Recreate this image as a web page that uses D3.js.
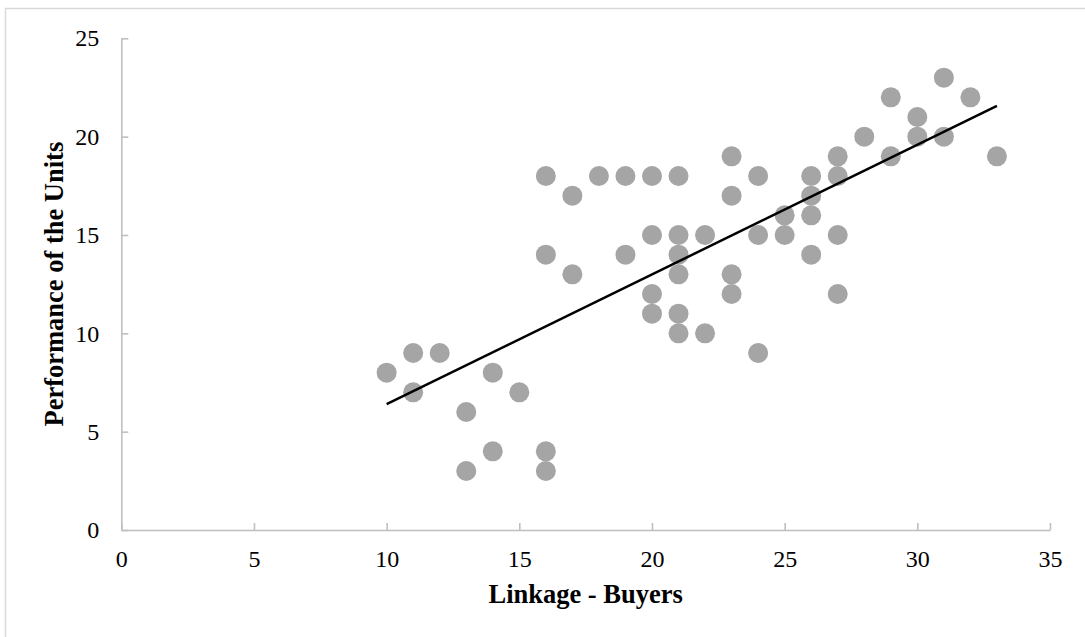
<!DOCTYPE html>
<html>
<head>
<meta charset="utf-8">
<script src="https://d3js.org/d3.v7.min.js"></script>
<style>
  html, body { margin: 0; padding: 0; background: #fff; }
  svg { display: block; }
</style>
</head>
<body>
<svg id="chart" width="1085" height="637"></svg>
<script>
// Linkage - Buyers (x) values
const linkageBuyers = [10, 11, 11, 12, 13, 13, 14, 14, 15, 16, 16, 16, 16, 17, 17, 18, 19, 19,
  20, 20, 20, 20, 21, 21, 21, 21, 21, 21, 22, 22, 23, 23, 23, 23, 24, 24, 24, 25, 25,
  26, 26, 26, 26, 27, 27, 27, 27, 28, 29, 29, 30, 30, 31, 31, 32, 33];
// Performance of the Units (y) values
const performance = [8, 9, 7, 9, 6, 3, 8, 4, 7, 18, 14, 4, 3, 17, 13, 18, 18, 14,
  18, 15, 12, 11, 18, 15, 14, 13, 11, 10, 15, 10, 19, 17, 13, 12, 18, 15, 9, 16, 15,
  18, 17, 16, 14, 19, 18, 15, 12, 20, 22, 19, 21, 20, 23, 20, 22, 19];
const xTicks = [0, 5, 10, 15, 20, 25, 30, 35];
const yTicks = [0, 5, 10, 15, 20, 25];
const xTitle = "Linkage - Buyers";
const yTitle = "Performance of the Units";

const svg = d3.select("#chart");
const W = 1085, H = 637;

// outer chart border
svg.append("rect").attr("x", 5.5).attr("y", 8.5).attr("width", W + 10).attr("height", H + 10)
  .attr("fill", "none").attr("stroke", "#D9D9D9").attr("stroke-width", 1.5);

const x = d3.scaleLinear().domain([0, 35]).range([121.3, 1050]);
const y = d3.scaleLinear().domain([0, 25]).range([530, 38.3]);

const font = "'Liberation Serif', 'Times New Roman', serif";
const axisColor = "#BFBFBF";

// x axis
const gx = svg.append("g").attr("transform", `translate(0,${y(0)})`)
  .call(d3.axisBottom(x).tickValues(xTicks).tickSizeInner(-7).tickSizeOuter(0).tickPadding(20));
// y axis
const gy = svg.append("g").attr("transform", `translate(${x(0)},0)`)
  .call(d3.axisLeft(y).tickValues(yTicks).tickSizeInner(-7).tickSizeOuter(0).tickPadding(22));

[gx, gy].forEach(g => {
  g.select(".domain").attr("stroke", axisColor).attr("stroke-width", 1.6);
  g.selectAll(".tick line").attr("stroke", axisColor).attr("stroke-width", 1.6);
  g.selectAll(".tick text").attr("fill", "#000").style("font-family", font).style("font-size", "24px");
});
gx.selectAll(".tick text").attr("dy", "0.71em");

// points
const data = linkageBuyers.map((v, i) => ({ x: v, y: performance[i] }));
svg.append("g").selectAll("circle").data(data).join("circle")
  .attr("cx", d => x(d.x)).attr("cy", d => y(d.y)).attr("r", 10)
  .attr("fill", "#A5A5A5");

// linear trendline (least squares)
const mx = d3.mean(data, d => d.x), my = d3.mean(data, d => d.y);
const slope = d3.sum(data, d => (d.x - mx) * (d.y - my)) / d3.sum(data, d => (d.x - mx) ** 2);
const icpt = my - slope * mx;
const [x0, x1] = d3.extent(linkageBuyers);
svg.append("line")
  .attr("x1", x(x0)).attr("y1", y(icpt + slope * x0))
  .attr("x2", x(x1)).attr("y2", y(icpt + slope * x1))
  .attr("stroke", "#000").attr("stroke-width", 2.5);

// axis titles
svg.append("text").attr("x", (x(0) + x(35)) / 2).attr("y", 603)
  .attr("text-anchor", "middle").style("font-family", font).style("font-size", "26.5px")
  .style("font-weight", "bold").text(xTitle);
svg.append("text").attr("transform", `translate(63,${(y(0) + y(25)) / 2}) rotate(-90)`)
  .attr("text-anchor", "middle").style("font-family", font).style("font-size", "26.5px")
  .style("font-weight", "bold").text(yTitle);
</script>
</body>
</html>
